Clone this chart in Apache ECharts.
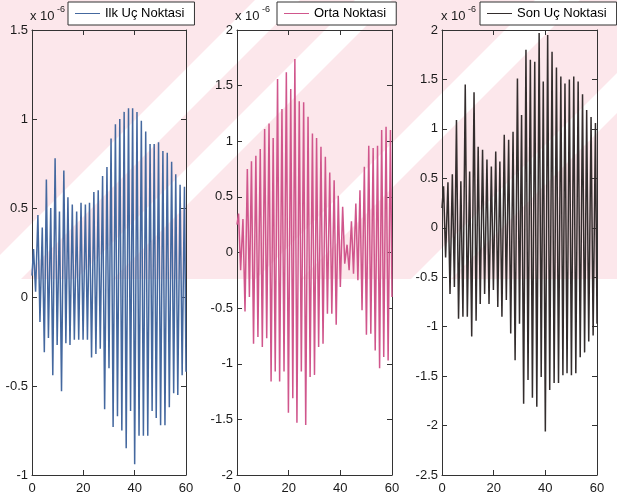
<!DOCTYPE html>
<html>
<head>
<meta charset="utf-8">
<script src="https://cdn.jsdelivr.net/npm/echarts@6/dist/echarts.min.js"></script>
<style>html,body{margin:0;padding:0;background:#fff}#c{width:617px;height:496px}</style>
</head>
<body>
<div id="c"></div>
<script>
// Times (s) of successive local maxima / minima
const tPeak = [0.6, 2.3, 4.0, 5.6, 7.3, 9.0, 10.7, 12.4, 14.0, 15.7, 17.4, 19.1, 20.8, 22.4, 24.1, 25.8, 27.5, 29.2, 30.8, 32.5, 34.2, 35.9, 37.6, 39.2, 40.9, 42.6, 44.3, 46.0, 47.6, 49.3, 51.0, 52.7, 54.4, 56.0, 57.7, 59.4];
const tTrough = [1.4, 3.1, 4.8, 6.4, 8.1, 9.8, 11.5, 13.2, 14.8, 16.5, 18.2, 19.9, 21.6, 23.2, 24.9, 26.6, 28.3, 30.0, 31.6, 33.3, 35.0, 36.7, 38.4, 40.0, 41.7, 43.4, 45.1, 46.8, 48.4, 50.1, 51.8, 53.5, 55.2, 56.8, 58.5, 60.0];

// Panel 1: Ilk Uç Noktasi (x 1e-6)
const ilkStart = 0.12;
const ilkPeaks = [0.27,0.46,0.39,0.66,0.50,0.78,0.48,0.71,0.56,0.52,0.48,0.53,0.52,0.53,0.59,0.60,0.68,0.73,0.89,0.97,1.00,1.04,1.06,1.06,1.04,0.99,0.93,0.86,0.86,0.87,0.82,0.81,0.76,0.69,0.63,0.62];
const ilkTroughs = [0.03,-0.14,-0.31,-0.23,-0.44,-0.27,-0.53,-0.26,-0.27,-0.24,-0.24,-0.24,-0.24,-0.34,-0.32,-0.29,-0.63,-0.40,-0.73,-0.67,-0.75,-0.85,-0.64,-0.94,-0.78,-0.78,-0.78,-0.64,-0.68,-0.72,-0.72,-0.62,-0.54,-0.55,-0.44,-0.42];

// Panel 2: Orta Noktasi
const ortaStart = 0.25;
const ortaPeaks = [0.35,0.30,0.75,0.82,0.87,0.93,1.11,1.16,1.03,1.56,1.29,1.62,1.47,1.74,1.36,1.35,1.22,1.07,1.03,0.95,0.86,0.72,0.65,0.51,0.41,0.07,0.28,0.44,0.56,0.77,0.96,0.94,0.96,1.10,1.13,1.10];
const ortaTroughs = [-0.16,-0.53,-0.40,-0.82,-0.76,-0.85,-0.77,-1.16,-1.07,-1.16,-1.07,-1.44,-1.31,-1.53,-1.07,-1.55,-1.12,-1.10,-0.85,-0.82,-0.55,-0.55,-0.65,-0.31,-0.10,-0.16,-0.19,-0.25,-0.52,-0.74,-0.73,-0.88,-1.04,-0.94,-0.97,-0.40];

// Panel 3: Son Uç Noktasi
const sonStart = 0.2;
const sonPeaks = [0.42,0.46,0.54,1.09,0.47,1.45,0.57,1.37,0.82,0.79,0.69,0.62,0.77,0.67,0.94,0.89,0.97,1.51,1.14,1.80,1.70,1.68,1.97,1.48,1.95,1.78,1.62,1.53,1.46,1.50,1.53,1.48,1.35,1.19,1.12,1.06];
const sonTroughs = [-0.30,-0.67,-0.60,-0.92,-0.90,-0.90,-1.10,-0.94,-0.77,-0.67,-0.77,-0.63,-0.80,-0.90,-0.73,-1.07,-1.34,-0.97,-1.78,-1.54,-1.72,-1.81,-1.51,-2.06,-1.64,-1.57,-1.57,-1.49,-1.47,-1.49,-1.47,-1.31,-1.26,-1.15,-1.09,-0.97];

const names = ['Ilk Uç Noktasi', 'Orta Noktasi', 'Son Uç Noktasi'];
const colors = ['#44689f', '#d0568c', '#332d2d'];
const yMin = [-1, -2, -2.5];
const yMax = [1.5, 2, 2];
const xTicks = [0, 20, 40, 60];

function build(start, peaks, troughs) {
  const d = [[0, start]];
  for (let i = 0; i < peaks.length; i++) {
    d.push([tPeak[i], peaks[i]]);
    d.push([tTrough[i], troughs[i]]);
  }
  return d;
}
const seriesData = [
  build(ilkStart, ilkPeaks, ilkTroughs),
  build(ortaStart, ortaPeaks, ortaTroughs),
  build(sonStart, sonPeaks, sonTroughs)
];

const FONT = 'Liberation Sans, Arial, sans-serif';
const grids = [
  {left: 32, top: 30, width: 154, height: 445},
  {left: 237, top: 30, width: 155, height: 445},
  {left: 442, top: 30, width: 155, height: 445}
];
const axisLineStyle = {color: '#333', width: 1};
const xAxes = [], yAxes = [], series = [], legends = [];
const legendLeft = [68, 277, 480];
grids.forEach((g, i) => {
  xAxes.push({
    type: 'value', gridIndex: i, position: 'bottom', min: xTicks[0], max: xTicks[xTicks.length - 1], interval: 20,
    axisLine: {show: true, onZero: false, lineStyle: axisLineStyle},
    axisTick: {show: true, inside: true, length: 5, lineStyle: axisLineStyle},
    axisLabel: {show: true, fontSize: 13, color: '#1a1a1a', fontFamily: FONT, margin: 7},
    splitLine: {show: false}
  });
  xAxes.push({
    type: 'value', gridIndex: i, position: 'top', min: 0, max: 60, interval: 20,
    axisLine: {show: true, onZero: false, lineStyle: axisLineStyle},
    axisTick: {show: true, inside: true, length: 5, lineStyle: axisLineStyle},
    axisLabel: {show: false}, splitLine: {show: false}
  });
  yAxes.push({
    type: 'value', gridIndex: i, position: 'left', min: yMin[i], max: yMax[i], interval: 0.5,
    axisLine: {show: true, onZero: false, lineStyle: axisLineStyle},
    axisTick: {show: true, inside: true, length: 5, lineStyle: axisLineStyle},
    axisLabel: {show: true, fontSize: 13, color: '#1a1a1a', fontFamily: FONT, margin: 4},
    splitLine: {show: false}
  });
  yAxes.push({
    type: 'value', gridIndex: i, position: 'right', min: yMin[i], max: yMax[i], interval: 0.5,
    axisLine: {show: true, onZero: false, lineStyle: axisLineStyle},
    axisTick: {show: true, inside: true, length: 5, lineStyle: axisLineStyle},
    axisLabel: {show: false}, splitLine: {show: false}
  });
  series.push({
    name: names[i], type: 'line', xAxisIndex: 2 * i, yAxisIndex: 2 * i,
    data: seriesData[i], showSymbol: false, symbol: 'none',
    lineStyle: {width: 1.5, color: colors[i]}, itemStyle: {color: colors[i]},
    clip: true, z: 3
  });
  legends.push({
    data: [names[i]], left: legendLeft[i], top: 2, orient: 'horizontal',
    backgroundColor: '#fff', borderColor: '#333', borderWidth: 1, borderRadius: 0,
    padding: [5, 10, 5, 7], icon: 'rect', itemWidth: 25, itemHeight: 1,
    textStyle: {fontSize: 13, color: '#000', fontFamily: FONT},
    selectedMode: false
  });
});

// background watermark (light pink with white diagonal bands)
const graphic = [{type: 'rect', z: -10, silent: true, shape: {x: 0, y: 0, width: 617, height: 279}, style: {fill: '#fce7eb'}}];
[[255, 300], [355, 392], [535, 580], [690, 730]].forEach(b => {
  graphic.push({type: 'polygon', z: -9, silent: true,
    shape: {points: [[b[0], 0], [b[1], 0], [b[1] - 279, 279], [b[0] - 279, 279]]},
    style: {fill: '#ffffff'}});
});
// exponent labels
const expPos = [30, 235, 441];
expPos.forEach(x => {
  graphic.push({type: 'text', left: x, top: 10, z: 5, style: {text: 'x 10', font: '13px ' + FONT, fill: '#1a1a1a'}});
  graphic.push({type: 'text', left: x + 27, top: 5, z: 5, style: {text: '-6', font: '9px ' + FONT, fill: '#1a1a1a'}});
});

const chart = echarts.init(document.getElementById('c'), null, {renderer: 'canvas'});
chart.setOption({
  animation: false,
  backgroundColor: '#fff',
  grid: grids,
  xAxis: xAxes,
  yAxis: yAxes,
  legend: legends,
  series: series,
  graphic: graphic
});
</script>
</body>
</html>
